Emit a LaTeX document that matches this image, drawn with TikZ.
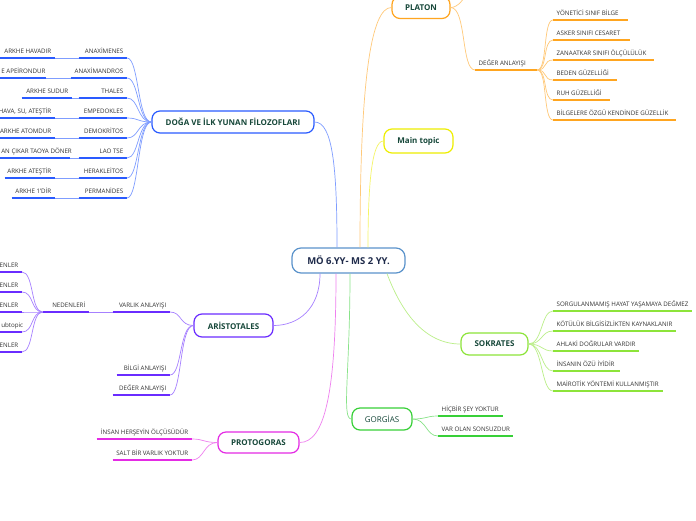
\documentclass[tikz,border=0pt]{standalone}
\usepackage{fontspec}
\setmainfont{Open Sans}
\definecolor{blueC}{HTML}{2A5BFF}
\definecolor{orangeC}{HTML}{FFA51F}
\definecolor{yellowC}{HTML}{EEEE00}
\definecolor{lgreenC}{HTML}{8DE43A}
\definecolor{greenC}{HTML}{38D038}
\definecolor{purpleC}{HTML}{6A2CFF}
\definecolor{magentaC}{HTML}{E42BE4}
\definecolor{centerC}{HTML}{5B93CB}
\definecolor{topicT}{HTML}{17483A}
\definecolor{centerT}{HTML}{1E2A4A}
\definecolor{leafT}{HTML}{333333}
\newcommand\rbx[2]{\hbox to #1pt{\hss#2}}
\newcommand\lbx[2]{\hbox to #1pt{#2\hss}}
\tikzset{
  ul/.style={draw=#1, line width=1.5pt},
  conn/.style={draw=#1!60, line width=0.7pt},
  leafbase/.style={font=\fontsize{6.2}{7}\selectfont, text=leafT, inner xsep=3.5pt,
    inner ysep=3.5pt, text height=4.6pt, text depth=1.2pt},
  leafW/.style={leafbase, anchor=south east,
    append after command={\pgfextra{\let\mynode=\tikzlastnode}
      (\mynode.south west) edge[ul=#1] (\mynode.south east)}},
  leafE/.style={leafbase, anchor=south west,
    append after command={\pgfextra{\let\mynode=\tikzlastnode}
      (\mynode.south west) edge[ul=#1] (\mynode.south east)}},
  topic/.style={draw=#1, fill=white, line width=1.2pt, rounded corners=8pt,
    font=\bfseries\fontsize{8}{9}\selectfont, text=topicT, inner sep=0pt, minimum height=22pt},
  centerbox/.style={draw=centerC, fill=white, line width=1.2pt, rounded corners=9pt,
    font=\bfseries\fontsize{9.5}{11}\selectfont, text=centerT, inner sep=0pt,
    minimum width=113pt, minimum height=25pt},
}
\begin{document}
\begin{tikzpicture}[x=1pt,y=-1pt]
\useasboundingbox (0,0) rectangle (696,520);
\clip (0,0) rectangle (696,520);
\fill[white] (0,0) rectangle (696,520);

% central and main topics
\node[centerbox] (c) at (348.5,260.5) {MÖ 6.YY- MS 2 YY.};
\node[topic=blueC, minimum width=162pt] (doga) at (233,122) {DOĞA VE İLK YUNAN FİLOZOFLARI};
\node[topic=orangeC, minimum width=58pt] (platon) at (421,7.5) {PLATON};
\node[topic=yellowC, minimum width=69pt, minimum height=24pt] (mtop) at (418.5,141) {Main topic};
\node[topic=lgreenC, minimum width=67pt] (sok) at (494.5,344) {SOKRATES};
\node[topic=greenC, minimum width=60pt, font=\fontsize{8}{9}\selectfont] (gor) at (382,419) {GORGİAS};
\node[topic=purpleC, minimum width=79pt, minimum height=23pt] (ari) at (233.5,325.5) {ARİSTOTALES};
\node[topic=magentaC, minimum width=81pt, minimum height=21pt] (pro) at (258.5,442.5) {PROTOGORAS};

% center connectors
\draw[conn=blueC] ([xshift=-11.5pt]c.north) .. controls +(0,-80) and +(18,0) .. (doga.east);
\draw[conn=orangeC] ([xshift=11.5pt]c.north) .. controls +(0,-170) and +(-20,0) .. (platon.west);
\draw[conn=yellowC] ([xshift=19.5pt]c.north) .. controls +(0,-60) and +(-12,0) .. (mtop.west);
\draw[conn=purpleC] ([xshift=-28.5pt]c.south) .. controls +(0,35) and +(25,0) .. (ari.east);
\draw[conn=magentaC] ([xshift=-12.5pt]c.south) .. controls +(0,120) and +(25,0) .. (pro.east);
\draw[conn=greenC] ([xshift=1.5pt]c.south) .. controls +(0,100) and +(-10,0) .. (gor.west);
\draw[conn=lgreenC] ([xshift=38.5pt]c.south) .. controls +(15,40) and +(-35,0) .. (sok.west);

% DOGA leaves
\node[leafW=blueC] (n1) at (127,58) {\rbx{41}{ANAXİMENES}};
\node[leafW=blueC] (n2) at (127,78) {\rbx{49}{ANAXİMANDROS}};
\node[leafW=blueC] (n3) at (127,98) {\rbx{41}{THALES}};
\node[leafW=blueC] (n4) at (127,118) {\rbx{41}{EMPEDOKLES}};
\node[leafW=blueC] (n5) at (127,138) {\rbx{41}{DEMOKRİTOS}};
\node[leafW=blueC] (n6) at (127,158) {\rbx{41}{LAO TSE}};
\node[leafW=blueC] (n7) at (127,178) {\rbx{41}{HERAKLEİTOS}};
\node[leafW=blueC] (n8) at (127,198) {\rbx{41}{PERMANİDES}};
\node[leafW=blueC] (a1) at (55,58) {\rbx{50}{ARKHE HAVADIR}};
\node[leafW=blueC] (a2) at (46,78) {\lbx{41}{E APEİRONDUR}};
\node[leafW=blueC] (a3) at (72,98) {\rbx{43}{ARKHE SUDUR}};
\node[leafW=blueC] (a4) at (55,118) {\rbx{50}{HAVA, SU, ATEŞTİR}};
\node[leafW=blueC] (a5) at (55,138) {\rbx{50}{ARKHE ATOMDUR}};
\node[leafW=blueC] (a6) at (70,158) {\lbx{65}{AN ÇIKAR TAOYA DÖNER}};
\node[leafW=blueC] (a7) at (55,178) {\rbx{43}{ARKHE ATEŞTİR}};
\node[leafW=blueC] (a8) at (55,198) {\rbx{36}{ARKHE 1'DİR}};
\foreach \i in {1,...,8}{
  \draw[conn=blueC] (doga.west) .. controls +(-14,0) and +(12,0) .. (n\i.south east);
  \draw[conn=blueC] (n\i.south west) -- (a\i.south east);
}

% ARISTOTALES leaves
\node[leafW=purpleC] (v1) at (170,312) {\rbx{50}{VARLIK ANLAYIŞI}};
\node[leafW=purpleC] (v2) at (170,375) {\rbx{46}{BİLGİ ANLAYIŞI}};
\node[leafW=purpleC] (v3) at (170,395) {\rbx{50}{DEĞER ANLAYIŞI}};
\node[leafW=purpleC] (nd) at (89,312) {\rbx{39}{NEDENLERİ}};
\node[leafW=purpleC] (e1) at (22,272) {\rbx{17}{ENLER}};
\node[leafW=purpleC] (e2) at (22,292) {\rbx{17}{ENLER}};
\node[leafW=purpleC] (e3) at (22,312) {\rbx{17}{ENLER}};
\node[leafW=purpleC] (e4) at (22,332) {\lbx{17}{ubtopic}};
\node[leafW=purpleC] (e5) at (22,352) {\rbx{17}{ENLER}};
\foreach \n in {v1,v2,v3}
  \draw[conn=purpleC] (ari.west) .. controls +(-14,0) and +(12,0) .. (\n.south east);
\draw[conn=purpleC] (v1.south west) -- (nd.south east);
\foreach \n in {e1,e2,e3,e4,e5}
  \draw[conn=purpleC] (nd.south west) .. controls +(-12,0) and +(12,0) .. (\n.south east);

% PROTOGORAS leaves
\node[leafW=magentaC] (p1) at (192,439) {\rbx{88}{İNSAN HERŞEYİN ÖLÇÜSÜDÜR}};
\node[leafW=magentaC] (p2) at (192,460) {\rbx{72}{SALT BİR VARLIK YOKTUR}};
\foreach \n in {p1,p2}
  \draw[conn=magentaC] (pro.west) .. controls +(-14,0) and +(12,0) .. (\n.south east);

% PLATON leaves
\coordinate (pup) at (468,-8);
\draw[conn=orangeC] (platon.east) .. controls +(8,0) and +(-4,6) .. (pup);
\node[leafE=orangeC] (pd) at (475,70) {\lbx{55}{DEĞER ANLAYIŞI}};
\draw[conn=orangeC] (platon.east) .. controls +(16,0) and +(-14,0) .. (pd.south west);
\node[leafE=orangeC] (k1) at (553,20) {\lbx{68}{YÖNETİCİ SINIF BİLGE}};
\node[leafE=orangeC] (k2) at (553,40) {\lbx{70}{ASKER SINIFI CESARET}};
\node[leafE=orangeC] (k3) at (553,60) {\lbx{94}{ZANAATKAR SINIFI ÖLÇÜLÜLÜK}};
\node[leafE=orangeC] (k4) at (553,80) {\lbx{57}{BEDEN GÜZELLİĞİ}};
\node[leafE=orangeC] (k5) at (553,100) {\lbx{50}{RUH GÜZELLİĞİ}};
\node[leafE=orangeC] (k6) at (553,120) {\lbx{116}{BİLGELERE ÖZGÜ KENDİNDE GÜZELLİK}};
\foreach \n in {k1,k2,k3,k4,k5,k6}
  \draw[conn=orangeC] (pd.south east) .. controls +(10,0) and +(-10,0) .. (\n.south west);

% SOKRATES leaves
\node[leafE=lgreenC] (s1) at (553,311) {\lbx{132}{SORGULANMAMIŞ HAYAT YAŞAMAYA DEĞMEZ}};
\node[leafE=lgreenC] (s2) at (553,331) {\lbx{116}{KÖTÜLÜK BİLGİSİZLİKTEN KAYNAKLANIR}};
\node[leafE=lgreenC] (s3) at (553,351) {\lbx{79}{AHLAKİ DOĞRULAR VARDIR}};
\node[leafE=lgreenC] (s4) at (553,371) {\lbx{60}{İNSANIN ÖZÜ İYİDİR}};
\node[leafE=lgreenC] (s5) at (553,391) {\lbx{103}{MAİROTİK YÖNTEMİ KULLANMIŞTIR}};
\foreach \n in {s1,s2,s3,s4,s5}
  \draw[conn=lgreenC] (sok.east) .. controls +(14,0) and +(-12,0) .. (\n.south west);

% GORGIAS leaves
\node[leafE=greenC] (g1) at (438,416) {\lbx{58}{HİÇBİR ŞEY YOKTUR}};
\node[leafE=greenC] (g2) at (438,436) {\lbx{68}{VAR OLAN SONSUZDUR}};
\foreach \n in {g1,g2}
  \draw[conn=greenC] (gor.east) .. controls +(14,0) and +(-12,0) .. (\n.south west);
\end{tikzpicture}
\end{document}
